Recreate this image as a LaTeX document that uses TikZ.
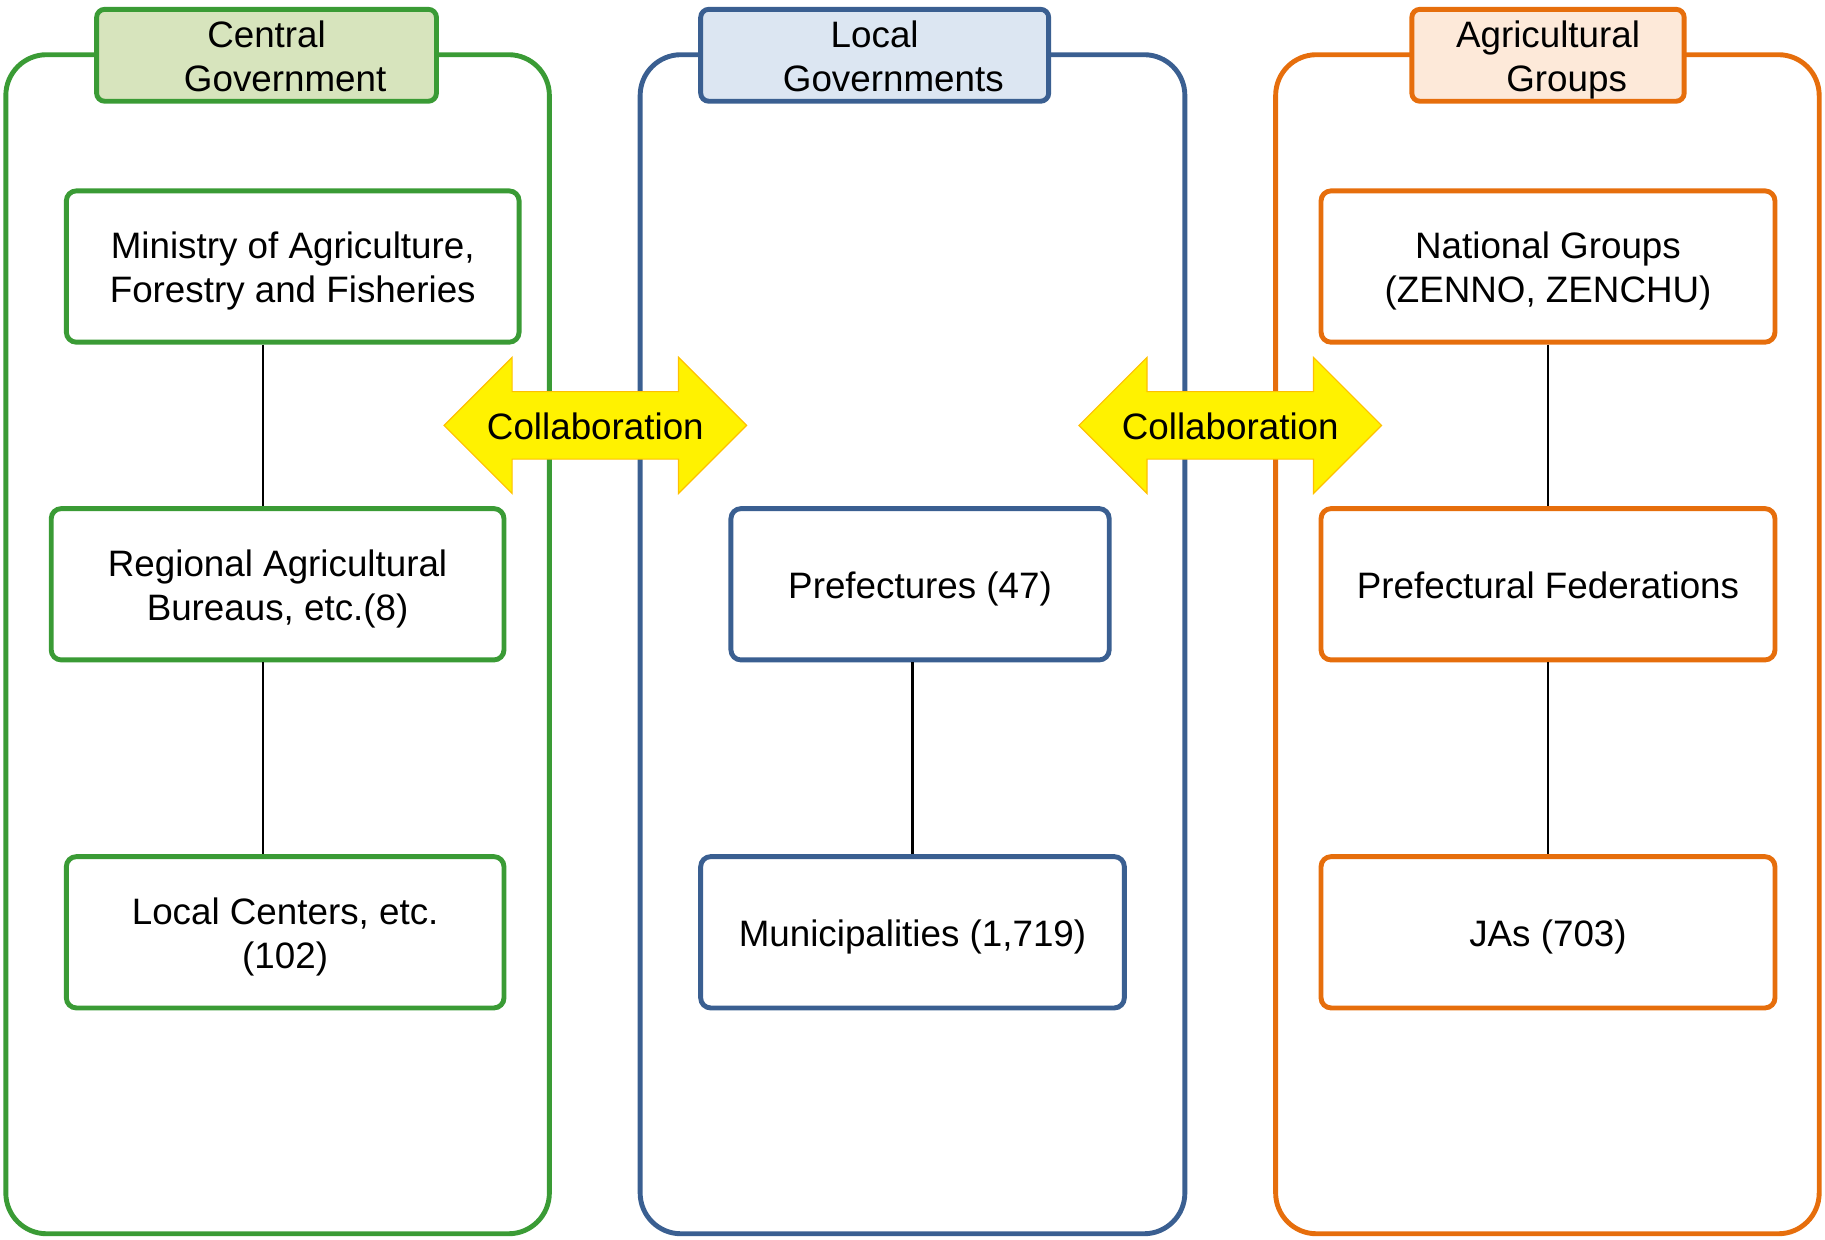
\documentclass[tikz,border=0pt]{standalone}
\usepackage{fontspec}
\setmainfont{Liberation Sans}
\usetikzlibrary{positioning}

\definecolor{govgreen}{RGB}{58,155,53}
\definecolor{govblue}{RGB}{58,95,145}
\definecolor{agrorange}{RGB}{230,110,12}
\definecolor{fillgreen}{RGB}{215,228,189}
\definecolor{fillblue}{RGB}{220,230,242}
\definecolor{fillorange}{RGB}{253,233,217}
\definecolor{collabline}{RGB}{255,192,0}

% feste Zeilenhoehe oben und unten
\newcommand{\orgtop}{\rule{0pt}{16.2pt}}
\newcommand{\orgbot}{\rule[-4pt]{0pt}{4pt}}

\begin{document}
\begin{tikzpicture}[
    x=0.5pt, y=-0.5pt,
    every node/.style={font=\fontsize{15.8}{19}\selectfont, align=center},
    column/.style={line width=2.1pt, rounded corners=17.5pt},
    head/.style={draw, line width=2.1pt, rounded corners=3.5pt, minimum height=39.5pt, inner sep=0pt},
    org/.style={draw, fill=white, line width=2.1pt, rounded corners=4.3pt, minimum height=65pt, inner sep=0pt},
    green_org/.style={org, draw=govgreen},
    blue_org/.style={org, draw=govblue},
    orange_org/.style={org, draw=agrorange},
    link/.style={line width=0.9pt},
    collab/.style={fill=yellow, draw=collabline, line width=0.5pt, line join=miter}
]
    \useasboundingbox (0,0) rectangle (1568,1065);
    % Spalten
    \draw[column, draw=govgreen] (5,47) rectangle (472,1060);
    \draw[column, draw=govblue] (550,47) rectangle (1018,1060);
    \draw[column, draw=agrorange] (1096,47) rectangle (1563,1060);
    % Titel
    \node[head, draw=govgreen, fill=fillgreen, minimum width=146pt] (central) at (229,47.5) {\orgtop Central\\\hspace*{16pt}Government\orgbot};
    \node[head, draw=govblue, fill=fillblue, minimum width=149.5pt] (local) at (751.5,47.5) {\orgtop Local\\\hspace*{16pt}Governments\orgbot};
    \node[head, draw=agrorange, fill=fillorange, minimum width=117pt] (agri) at (1330,47.5) {\orgtop Agricultural\\\hspace*{16pt}Groups\orgbot};
    % Organisationen
    \node[green_org, minimum width=194.5pt] (ministry) at (251.5,229) {\orgtop Ministry of Agriculture,\\Forestry and Fisheries\orgbot};
    \node[green_org, minimum width=194.5pt] (regional) at (238.5,502) {\orgtop Regional Agricultural\\Bureaus, etc.(8)\orgbot};
    \node[green_org, minimum width=188pt] (centers) at (245,801) {\orgtop Local Centers, etc.\\(102)\orgbot};
    \node[blue_org, minimum width=162.5pt] (prefectures) at (790.5,502) {\orgtop Prefectures (47)\orgbot};
    \node[blue_org, minimum width=182pt] (municipalities) at (784,801) {\orgtop Municipalities (1,719)\orgbot};
    \node[orange_org, minimum width=195pt] (national) at (1330,229) {\orgtop National Groups\\(ZENNO, ZENCHU)\orgbot};
    \node[orange_org, minimum width=195pt] (federations) at (1330,502) {\orgtop Prefectural Federations\orgbot};
    \node[orange_org, minimum width=195pt] (jas) at (1330,801) {\orgtop JAs (703)\orgbot};
    % Verbindungen
    \coordinate (green_axis) at (226,0);
    \draw[link] (ministry.south -| green_axis) -- (regional.north -| green_axis);
    \draw[link] (regional.south -| green_axis) -- (centers.north -| green_axis);
    \draw[link] (prefectures.south -| municipalities.north) -- (municipalities.north);
    \draw[link] (national) -- (federations);
    \draw[link] (federations) -- (jas);
    % Zusammenarbeit
    \foreach \cx/\nm in {511.5/collab_left, 1057/collab_right} {
        \draw[collab] (\cx-130,365.5) -- (\cx-71.5,307) -- (\cx-71.5,336.5) -- (\cx+71.5,336.5)
            -- (\cx+71.5,307) -- (\cx+130,365.5) -- (\cx+71.5,424) -- (\cx+71.5,394.5)
            -- (\cx-71.5,394.5) -- (\cx-71.5,424) -- cycle;
        \node (\nm) at (\cx,365.5) {\orgtop Collaboration\orgbot};
    }
\end{tikzpicture}
\end{document}
